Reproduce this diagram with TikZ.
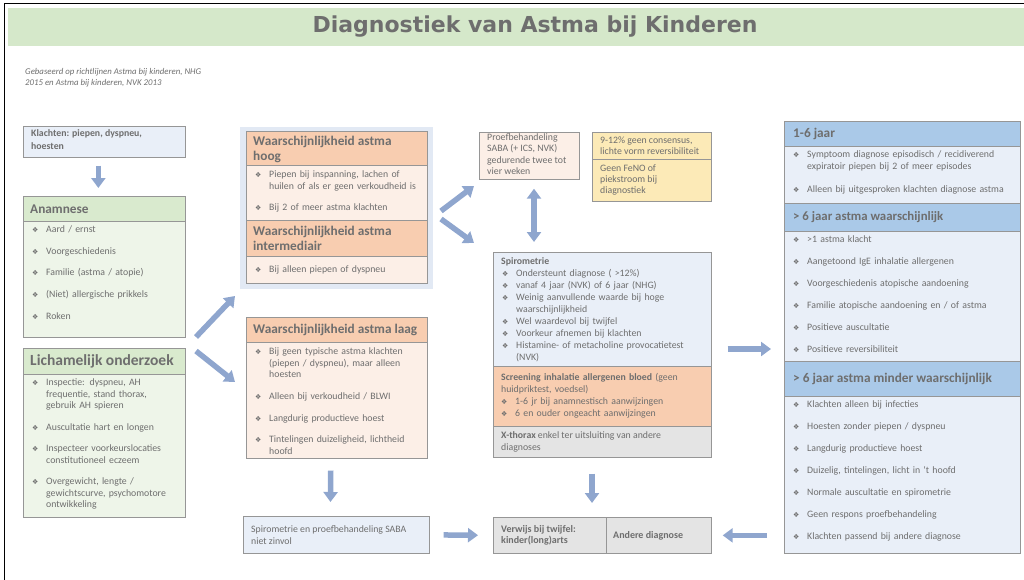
\documentclass[tikz,border=0pt]{standalone}
\usepackage{fontspec}
\setmainfont{Carlito}
\newfontfamily\symfont{DejaVu Sans}
\newfontfamily\titlefont{DejaVu Sans}
\usetikzlibrary{positioning,arrows.meta}

\definecolor{txtgray}{RGB}{110,110,110}
\definecolor{linegray}{RGB}{150,150,150}
\definecolor{bandgreen}{RGB}{213,232,202}
\definecolor{hdrgreen}{RGB}{217,234,206}
\definecolor{bodygreen}{RGB}{238,245,233}
\definecolor{hdrorange}{RGB}{248,205,176}
\definecolor{bodyorange}{RGB}{252,239,231}
\definecolor{hdrblue}{RGB}{170,201,232}
\definecolor{bodyblue}{RGB}{233,239,248}
\definecolor{panelblue}{RGB}{226,233,244}
\definecolor{boxgray}{RGB}{228,228,228}
\definecolor{boxyellow}{RGB}{252,234,183}
\definecolor{arrowblue}{RGB}{143,166,206}

\newcommand{\bul}{{\symfont\fontsize{7}{7}\selectfont ❖}}
\newcommand{\fitm}[1]{\noindent\hangindent=14pt\hangafter=1\makebox[14pt][l]{\bul}#1}
\newcommand{\itm}[1]{\par\fitm{#1}}

\tikzset{
  box/.style={draw=linegray, line width=0.7pt, anchor=north west, inner sep=0pt},
  txt/.style={anchor=north west, inner sep=0pt, align=left, text=txtgray, font=\fontsize{9.8}{11.5}\selectfont},
  lst/.style={txt, font=\fontsize{9.8}{11.5}\selectfont\setlength{\parskip}{#1}},
  lst/.default=10pt,
  hdr/.style={anchor=west, inner sep=0pt, align=left, text=txtgray, font=\bfseries\fontsize{13.3}{14.5}\selectfont},
  barrow/.style={draw=arrowblue, line width=5.5pt, -{Triangle[width=14pt,length=10pt]}},
  dbarrow/.style={draw=arrowblue, line width=5.5pt, {Triangle[width=14pt,length=10pt]}-{Triangle[width=14pt,length=10pt]}}
}

\begin{document}
\begin{tikzpicture}[x=1pt,y=-1pt]
  \useasboundingbox (0,0) rectangle (1024,580);
  % frame and title band
  \draw [black,line width=1pt] (4,580) -- (4,4) -- (1024,4);
  \fill [bandgreen] (8,8) rectangle (1024,46);
  \node [text=txtgray,font=\titlefont\bfseries\fontsize{22}{25}\selectfont] (title) at (535,27) {Diagnostiek van Astma bij Kinderen};
  \node [txt,font=\itshape\fontsize{8.8}{11}\selectfont] (bron) at (25,68) {Gebaseerd op richtlijnen Astma bij kinderen, NHG\\2015 en Astma bij kinderen, NVK 2013};

  % left column
  \node [box,fill=bodyblue,minimum width=162pt,minimum height=31pt] (klachten) at (23,126) {};
  \node [txt,font=\bfseries\fontsize{9.8}{12.5}\selectfont] at ([shift={(8,3.5)}]klachten.north west) {Klachten: piepen, dyspneu,\\hoesten};

  \node [box,fill=hdrgreen,minimum width=162pt,minimum height=25pt] (anamH) at (23,196) {};
  \node [hdr] at ([shift={(7,0)}]anamH.west) {Anamnese};
  \node [box,fill=bodygreen,minimum width=162pt,minimum height=116pt] (anamB) at (23,221) {};
  \node [lst=10.2pt,text width=148pt] at ([shift={(9,4.5)}]anamB.north west) {\fitm{Aard / ernst}\itm{Voorgeschiedenis}\itm{Familie (astma / atopie)}\itm{(Niet) allergische prikkels}\itm{Roken}\par};

  \node [box,fill=hdrgreen,minimum width=162pt,minimum height=26pt] (lichH) at (23,348) {};
  \node [hdr,font=\bfseries\fontsize{15.5}{16}\selectfont] at ([shift={(7,0)}]lichH.west) {Lichamelijk onderzoek};
  \node [box,fill=bodygreen,minimum width=162pt,minimum height=143pt] (lichB) at (23,374) {};
  \node [lst,text width=148pt] at ([shift={(9,4.5)}]lichB.north west) {\fitm{Inspectie: dyspneu, AH\newline frequentie, stand thorax,\newline gebruik AH spieren}\itm{Auscultatie hart en longen}\itm{Inspecteer voorkeurslocaties\newline constitutioneel eczeem}\itm{Overgewicht, lengte /\newline gewichtscurve, psychomotore\newline ontwikkeling}\par};

  % middle column
  \node [fill=panelblue,anchor=north west,inner sep=0pt,minimum width=193pt,minimum height=162pt] (hoogpanel) at (240,127) {};
  \node [box,fill=hdrorange,minimum width=181pt,minimum height=34pt] (hoogH) at (246,131) {};
  \node [hdr] at ([shift={(7,1)}]hoogH.west) {Waarschijnlijkheid astma\\hoog};
  \node [box,fill=bodyorange,minimum width=181pt,minimum height=55pt] (hoogB) at (246,165) {};
  \node [lst,text width=168pt] at ([shift={(9,5.5)}]hoogB.north west) {\fitm{Piepen bij inspanning, lachen of\newline huilen of als er geen verkoudheid is}\itm{Bij 2 of meer astma klachten}\par};
  \node [box,fill=hdrorange,minimum width=181pt,minimum height=36pt] (interH) at (246,220) {};
  \node [hdr] at ([shift={(7,0)}]interH.west) {Waarschijnlijkheid astma\\intermediair};
  \node [box,fill=bodyorange,minimum width=181pt,minimum height=27pt] (interB) at (246,256) {};
  \node [lst,text width=168pt] at ([shift={(9,9.5)}]interB.north west) {\fitm{Bij alleen piepen of dyspneu}\par};

  \node [box,fill=hdrorange,minimum width=181pt,minimum height=25pt] (laagH) at (246,317) {};
  \node [hdr] at ([shift={(7,0)}]laagH.west) {Waarschijnlijkheid astma laag};
  \node [box,fill=bodyorange,minimum width=181pt,minimum height=116pt] (laagB) at (246,342) {};
  \node [lst=10.3pt,text width=168pt] at ([shift={(9,5.5)}]laagB.north west) {\fitm{Bij geen typische astma klachten\newline (piepen / dyspneu), maar alleen\newline hoesten}\itm{Alleen bij verkoudheid / BLWI}\itm{Langdurig productieve hoest}\itm{Tintelingen duizeligheid, lichtheid\newline hoofd}\par};

  \node [box,fill=bodyblue,minimum width=186pt,minimum height=37pt] (zinvol) at (243,516) {};
  \node [txt,anchor=west] at ([shift={(8,0)}]zinvol.west) {Spirometrie en proefbehandeling SABA\\niet zinvol};

  % centre column
  \node [box,fill=bodyorange,minimum width=100pt,minimum height=47pt] (proef) at (479,132) {};
  \node [txt] at ([shift={(8,1)}]proef.north west) {Proefbehandeling\\SABA (+ ICS, NVK)\\gedurende twee tot\\vier weken};

  \node [box,fill=boxyellow,minimum width=119pt,minimum height=27pt] (consensus) at (592,132) {};
  \node [txt,anchor=west,font=\fontsize{9.8}{10.5}\selectfont] at ([shift={(8,0)}]consensus.west) {9-12\% geen consensus,\\lichte vorm reversibiliteit};
  \node [box,fill=boxyellow,minimum width=119pt,minimum height=42pt] (feno) at (592,159) {};
  \node [txt,anchor=west,font=\fontsize{9.8}{11}\selectfont] at ([shift={(8,0)}]feno.west) {Geen FeNO of\\piekstroom bij\\diagnostiek};

  \node [box,fill=bodyblue,minimum width=218pt,minimum height=114pt] (spiroA) at (493,252) {};
  \node [lst=0pt,text width=205pt] at ([shift={(9,5)}]spiroA.north west) {\baselineskip=12pt\hspace*{-1pt}\textbf{Spirometrie}\itm{Ondersteunt diagnose ( >12\%)}\itm{vanaf 4 jaar (NVK) of 6 jaar (NHG)}\itm{Weinig aanvullende waarde bij hoge\newline waarschijnlijkheid}\itm{Wel waardevol bij twijfel}\itm{Voorkeur afnemen bij klachten}\itm{Histamine- of metacholine provocatietest\newline (NVK)}\par};
  \node [box,fill=hdrorange,minimum width=218pt,minimum height=60pt] (spiroB) at (493,366) {};
  \node [lst=0pt,text width=205pt] at ([shift={(8,7)}]spiroB.north west) {\baselineskip=12pt\textbf{Screening inhalatie allergenen bloed} (geen\newline huidpriktest, voedsel)\itm{1-6 jr bij anamnestisch aanwijzingen}\itm{6 en ouder ongeacht aanwijzingen}\par};
  \node [box,fill=boxgray,minimum width=218pt,minimum height=31pt] (spiroC) at (493,426) {};
  \node [txt,anchor=west] at ([shift={(8,0)}]spiroC.west) {\textbf{X-thorax} enkel ter uitsluiting van andere\\diagnoses};

  \node [box,fill=boxgray,minimum width=113pt,minimum height=36pt] (verwijs) at (493,517) {};
  \node [txt,anchor=west,font=\bfseries\fontsize{10}{11}\selectfont] at ([shift={(8,0)}]verwijs.west) {Verwijs bij twijfel:\\kinder(long)arts};
  \node [box,fill=boxgray,minimum width=105pt,minimum height=36pt] (andere) at (606,517) {};
  \node [txt,anchor=west,font=\bfseries\fontsize{10}{11}\selectfont] at ([shift={(7,0)}]andere.west) {Andere diagnose};

  % right column
  \node [box,fill=hdrblue,minimum width=236pt,minimum height=25pt] (jongH) at (784,121) {};
  \node [hdr] at ([shift={(9,0)}]jongH.west) {1-6 jaar};
  \node [box,fill=bodyblue,minimum width=236pt,minimum height=57pt] (jongB) at (784,146) {};
  \node [lst=11.5pt,text width=224pt] at ([shift={(9,4.5)}]jongB.north west) {\fitm{Symptoom diagnose episodisch / recidiverend\newline expiratoir piepen bij 2 of meer episodes}\itm{Alleen bij uitgesproken klachten diagnose astma}\par};
  \node [box,fill=hdrblue,minimum width=236pt,minimum height=28pt] (welH) at (784,203) {};
  \node [hdr,font=\bfseries\fontsize{12.8}{14}\selectfont] at ([shift={(9,0)}]welH.west) {> 6 jaar astma waarschijnlijk};
  \node [box,fill=bodyblue,minimum width=236pt,minimum height=130pt] (welB) at (784,231) {};
  \node [lst=10.5pt,text width=224pt] at ([shift={(9,4.5)}]welB.north west) {\fitm{>1 astma klacht}\itm{Aangetoond IgE inhalatie allergenen}\itm{Voorgeschiedenis atopische aandoening}\itm{Familie atopische aandoening en / of astma}\itm{Positieve auscultatie}\itm{Positieve reversibiliteit}\par};
  \node [box,fill=hdrblue,minimum width=236pt,minimum height=35pt] (minderH) at (784,361) {};
  \node [hdr] at ([shift={(9,0)}]minderH.west) {> 6 jaar astma minder waarschijnlijk};
  \node [box,fill=bodyblue,minimum width=236pt,minimum height=157pt] (minderB) at (784,396) {};
  \node [lst=10.5pt,text width=224pt] at ([shift={(9,4.5)}]minderB.north west) {\fitm{Klachten alleen bij infecties}\itm{Hoesten zonder piepen / dyspneu}\itm{Langdurig productieve hoest}\itm{Duizelig, tintelingen, licht in ‘t hoofd}\itm{Normale auscultatie en spirometrie}\itm{Geen respons proefbehandeling}\itm{Klachten passend bij andere diagnose}\par};

  % arrows
  \coordinate (forkLa) at (196,337);
  \coordinate (forkLb) at (235,296);
  \coordinate (forkLc) at (196,351);
  \coordinate (forkLd) at (235,382);
  \coordinate (forkMa) at (441,211);
  \coordinate (forkMb) at (474,186);
  \coordinate (forkMc) at (441,219);
  \coordinate (forkMd) at (474,243);
  \coordinate (dbl) at (534,0);
  \coordinate (omlaag) at (592,0);
  \coordinate (naar) at (0,349);

  \draw [barrow,shorten <=8pt,shorten >=8pt] ([xshift=-6pt]klachten.south) -- ([xshift=-6pt]anamH.north);
  \draw [barrow] (forkLa) -- (forkLb);
  \draw [barrow] (forkLc) -- (forkLd);
  \draw [barrow] (forkMa) -- (forkMb);
  \draw [barrow] (forkMc) -- (forkMd);
  \draw [dbarrow,shorten <=9pt,shorten >=10pt] (proef.south -| dbl) -- (spiroA.north -| dbl);
  \draw [barrow,shorten <=12pt,shorten >=14pt] ([xshift=-6pt]laagB.south) -- ([xshift=-6pt]zinvol.north);
  \draw [barrow,shorten <=14pt,shorten >=15pt] (zinvol.east) -- (verwijs.west);
  \draw [barrow,shorten <=16pt,shorten >=14pt] (spiroC.south -| omlaag) -- (verwijs.north -| omlaag);
  \draw [barrow,shorten <=16pt,shorten >=13pt] (spiroA.east |- naar) -- (welB.west |- naar);
  \draw [barrow,shorten <=17pt,shorten >=11pt] (minderB.west |- andere.east) -- (andere.east);
\end{tikzpicture}
\end{document}
